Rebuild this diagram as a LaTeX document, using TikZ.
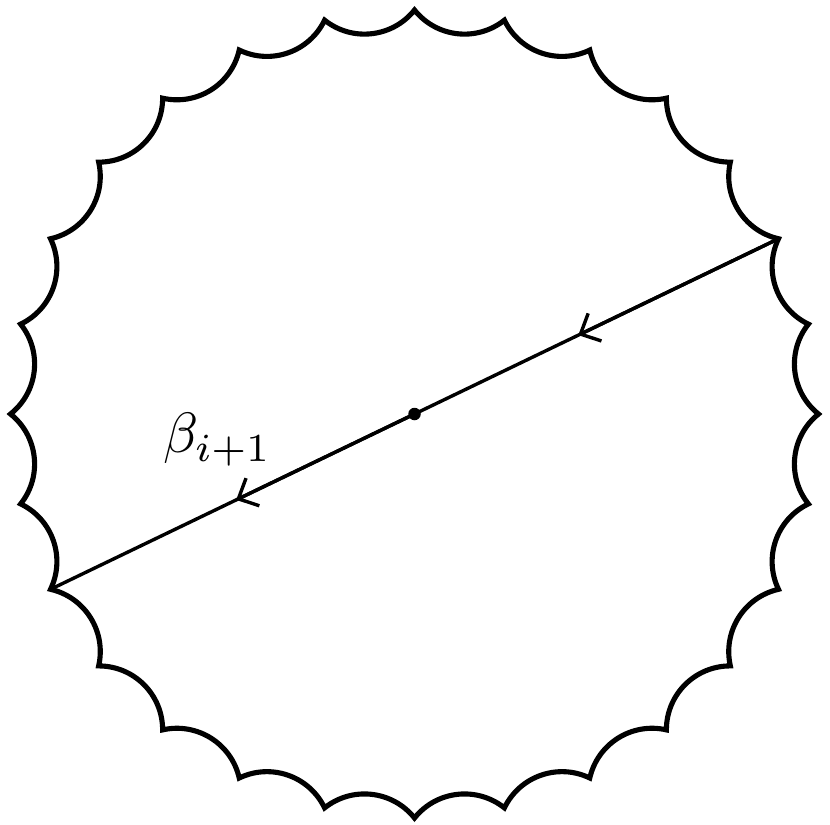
\documentclass[tikz,border=0pt]{standalone}
\usepackage{amsmath, amsfonts}
\usepackage{amssymb}
\usepackage{tikz}
\usetikzlibrary{arrows}
\usetikzlibrary{arrows.meta}
\usetikzlibrary{positioning, calc}

\begin{document}
\begin{tikzpicture}[>={Straight Barb[length=2.8pt,width=5.4pt]},
  rim/.style={line width=0.9pt},
  geod/.style={semithick}]
  \useasboundingbox (-2.565,-2.543) rectangle (2.571,2.562);
  \foreach \k in {0,...,27}
    \coordinate (v\k) at (\k*360/28:2.5);
  \node[circle, fill, inner sep=0pt, minimum size=2.2pt] (O) at (0,0) {};
  \draw[rim] (v0) \foreach \k in {1,...,27} { to[bend left=45] (v\k) }
    to[bend left=45] cycle;
  \coordinate (a1) at ($(v2)!0.55!(O.center)$);
  \coordinate (a2) at ($(O.center)!0.49!(v16)$);
  \draw[geod] (v2) -- (v16);
  \draw[geod,->] (v2) -- (a1);
  \draw[geod,->] (O.center) -- (a2);
  \node (beta) at (-1.22,-0.16) {$\beta_{i+1}$};
\end{tikzpicture}
\end{document}
